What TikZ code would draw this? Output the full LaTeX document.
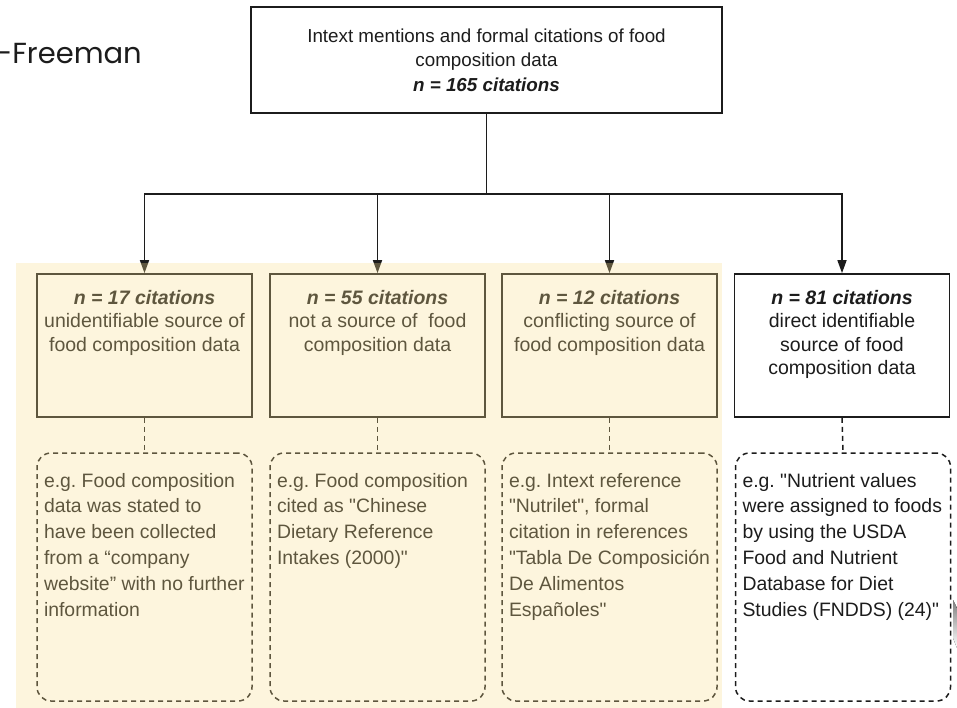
\documentclass[tikz,border=0pt]{standalone}
\usepackage{fontspec}
\setmainfont{Liberation Sans}
\newfontfamily\namefont{Poppins}
\usetikzlibrary{arrows.meta}
\frenchspacing

\definecolor{ink}{HTML}{1C1C1C}
\definecolor{tint}{HTML}{F8DE8E}
\definecolor{shade}{HTML}{B4B4B4}

\newcommand{\nline}[1]{\textbf{\textit{#1}}}
\newcommand{\q}{\textquotedbl}
\newcommand{\cattext}[1]{\parbox[t][111pt][t]{201pt}{\centering #1}}
\newcommand{\egtext}[1]{\parbox[t][208pt][t]{201pt}{\raggedright #1}}

\tikzset{
  catbox/.style={draw=ink, line width=1.7pt, minimum width=215pt, minimum height=143pt,
    inner sep=0pt, text=ink, font=\fontsize{19.5}{23.5}\selectfont},
  egbox/.style={draw=ink, line width=1.5pt, dash pattern=on 5pt off 4pt, rounded corners=14pt,
    minimum width=215pt, minimum height=248pt, inner sep=0pt, text=ink,
    font=\fontsize{19.4}{25.8}\selectfont},
  link/.style={ink, line width=1.6pt, -{Triangle[length=13pt,width=9pt]}},
  dashlink/.style={ink, line width=1.5pt, dash pattern=on 5pt off 4pt},
}

\begin{document}
\begin{tikzpicture}[x=1pt,y=-1pt]
\useasboundingbox (0,0) rectangle (957,708);

\node[font=\namefont\fontsize{29}{34}\selectfont, anchor=base east, inner sep=0pt, text=ink] (author) at (142,64) {-Freeman};

\node[draw=ink, line width=1.7pt, minimum width=471pt, minimum height=106pt, align=center,
  text=ink, font=\fontsize{18.8}{24.5}\selectfont] (top) at (486.5,60)
  {Intext mentions and formal citations of food\\composition data\\\nline{n = 165 citations}};

% categories
\node[catbox] (c1) at (144.5,345.5) {\cattext{\nline{n = 17 citations}\\unidentifiable source of\\food composition data}};
\node[catbox] (c2) at (377.5,345.5) {\cattext{\nline{n = 55 citations}\\not a source of\ \ food\\composition data}};
\node[catbox] (c3) at (609.5,345.5) {\cattext{\nline{n = 12 citations}\\conflicting source of\\food composition data}};
\node[catbox] (c4) at (842,345.5) {\cattext{\nline{n = 81 citations}\\direct identifiable\\source of food\\composition data}};

% examples
\node[egbox] (e1) at (144.5,577) {\egtext{e.g. Food composition\\data was stated to\\have been collected\\from a “company\\website” with no further\\information}};
\node[egbox] (e2) at (377.5,577) {\egtext{e.g. Food composition\\cited as \q Chinese\\Dietary Reference\\Intakes (2000)\q}};
\node[egbox] (e3) at (609.5,577) {\egtext{e.g. Intext reference\\\q Nutrilet\q, formal\\citation in references\\\q Tabla De Composición\\De Alimentos\\Españoles\q}};
\node[egbox] (e4) at (843,577) {\egtext{e.g. \q Nutrient values\\were assigned to foods\\by using the USDA\\Food and Nutrient\\Database for Diet\\Studies (FNDDS) (24)\q}};

\coordinate (split) at (486.5,194);
\draw[ink, line width=1.6pt] (top.south) -- (split);
\foreach \c in {c1,c2,c3,c4}
  \draw[link] (split) -| (\c.north);
\foreach \c/\e in {c1/e1,c2/e2,c3/e3,c4/e4}
  \draw[dashlink] (\c.south) -- (\e.north);

% highlighted group
\fill[tint, opacity=0.3] (16,263) rectangle (722,708);

\fill[shade] (953,600) -- (957,608) -- (957,648) -- (953,638) -- cycle;
\end{tikzpicture}
\end{document}
